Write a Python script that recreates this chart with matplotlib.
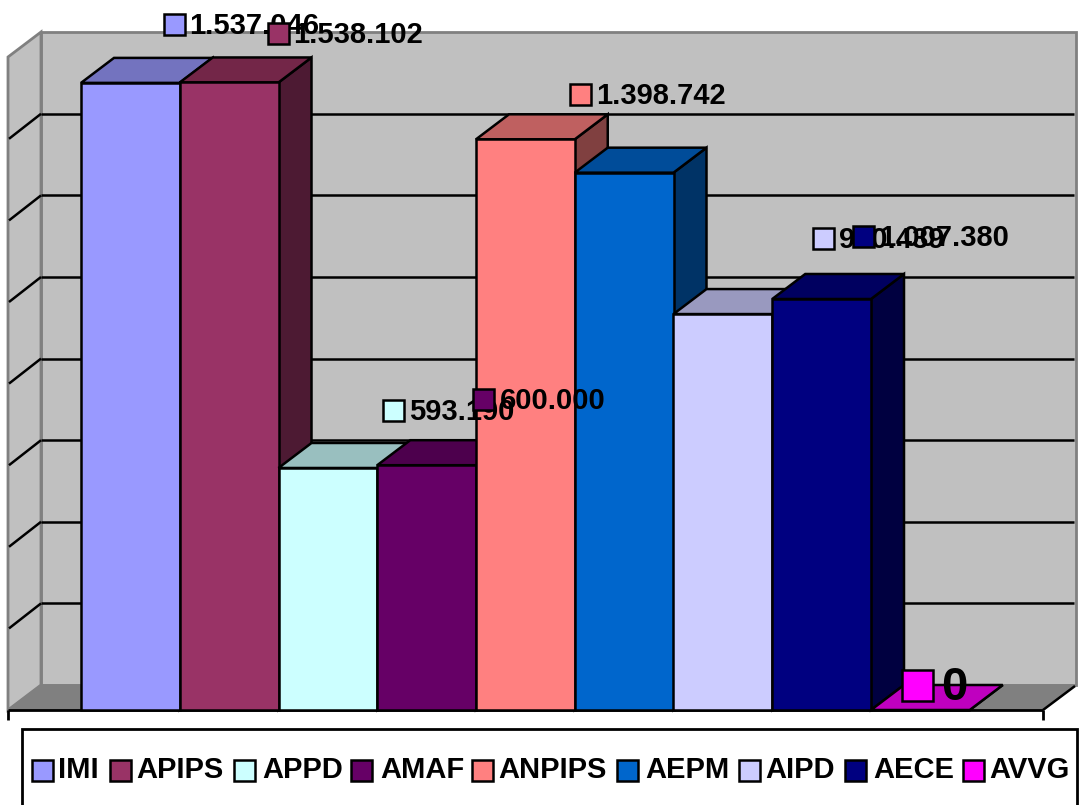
import matplotlib
matplotlib.use('Agg')
import matplotlib.pyplot as plt
from matplotlib.patches import Rectangle

categories = ['IMI', 'APIPS', 'APPD', 'AMAF', 'ANPIPS', 'AEPM', 'AIPD', 'AECE', 'AVVG']
values = [1537046, 1538102, 593190, 600000, 1398742, 1317000, 970439, 1007380, 0]
colors = ['#9999ff', '#993366', '#ccffff', '#660066', '#ff8080', '#0066cc', '#ccccff', '#000080', '#ff00ff']
top_colors = ['#7373bf', '#732648', '#99bfbf', '#4d004d', '#bf6060', '#004c99', '#9999bf', '#000060', '#bf00bf']
side_colors = ['#4d4d80', '#4d1a33', '#668080', '#330033', '#804040', '#003366', '#666680', '#000040', '#800080']
label_texts = ['1.537.046', '1.538.102', '593.190', '600.000', '1.398.742', None, '970.439', '1.007.380', '0']
grid_values = [200000, 400000, 600000, 800000, 1000000, 1200000, 1400000, 1600000]

# layout in pixels of the 1080x805 picture
label_x = [174, 278, 394, 484, 581, None, 824, 864, 918]
label_y = [25, 34, 411, 400, 95, None, 239, 237, 685]
legend_box_x = [42, 120, 245, 362, 483, 628, 750, 856, 974]
legend_text_x = [58, 136, 262, 380, 498, 645, 765, 873, 989]

BAR_L = 81
BAR_W = 98.75
BASE = 710
UNITS_PER_PX = 2451
DX = 33
DY = 25
LW = 1.8
FONT = 'Liberation Sans'

fig = plt.figure(figsize=(10.8, 8.05), dpi=100)
ax = fig.add_axes([0, 0, 1, 1])
ax.set_xlim(-BAR_L / BAR_W, (1080 - BAR_L) / BAR_W)
ax.set_ylim((BASE - 805) * UNITS_PER_PX, BASE * UNITS_PER_PX)
ax.axis('off')


def px(x, y):
    return (x - BAR_L) / BAR_W, (BASE - y) * UNITS_PER_PX


def poly(points, fc, ec='black', lw=LW, z=1):
    xy = [px(*p) for p in points]
    ax.fill([p[0] for p in xy], [p[1] for p in xy], facecolor=fc, edgecolor=ec,
            linewidth=lw, zorder=z, joinstyle='miter')


def line(x0, y0, x1, y1, color='black', lw=LW, z=2):
    a, b = px(x0, y0), px(x1, y1)
    ax.plot([a[0], b[0]], [a[1], b[1]], color=color, lw=lw, zorder=z, solid_capstyle='butt')


# walls and floor
poly([(41, 32), (1076, 32), (1076, 685), (41, 685)], '#c0c0c0', '#808080', 2)
poly([(8, 57), (41, 32), (41, 685), (8, 710)], '#c0c0c0', '#808080', 2)
poly([(8, 710), (41, 685), (1076, 685), (1043, 710)], '#808080', '#808080', 1.0)

# gridlines
for g in grid_values:
    yp = BASE - DY - g / UNITS_PER_PX
    if g < 1600000:
        line(41, yp, 1074, yp)
        line(9, yp + DY, 41, yp)

line(8, 710, 1043, 710, lw=2)
line(1043, 710, 1075, 686)
line(8, 710, 8, 720, lw=2)
line(1043, 710, 1043, 720, lw=2)

# bars
z = 3
for i, v in enumerate(values):
    xl = i
    xr = i + 1
    dx = DX / BAR_W
    dy = DY * UNITS_PER_PX
    ax.fill([xr, xr + dx, xr + dx, xr], [0, dy, v + dy, v], facecolor=side_colors[i],
            edgecolor='black', linewidth=LW, zorder=z)
    ax.fill([xl, xl + dx, xr + dx, xr], [v, v + dy, v + dy, v], facecolor=top_colors[i],
            edgecolor='black', linewidth=LW, zorder=z + 1)
    ax.bar(xl, v, width=1, align='edge', color=colors[i], edgecolor='black', linewidth=LW, zorder=z + 2)
    z += 3

# data labels
for i, txt in enumerate(label_texts):
    if txt is None:
        continue
    big = txt == '0'
    half = 15.5 if big else 10.5
    x0, y0 = px(label_x[i] - half, label_y[i] + half)
    ax.add_patch(Rectangle((x0, y0), 2 * half / BAR_W, 2 * half * UNITS_PER_PX, facecolor=colors[i],
                           edgecolor='black', linewidth=LW, zorder=z))
    tx, ty = px(label_x[i] + half + 5 + (3 if big else 0), label_y[i] + (3 if big else 1))
    ax.text(tx, ty, txt, fontsize=34 if big else 21, fontweight='bold', family=FONT,
            ha='left', va='center', color='black', zorder=z + 1)
    z += 2

# legend
poly([(22, 729), (1077, 729), (1077, 815), (22, 815)], 'white', 'black', 2, z=z)
z += 1
for i, name in enumerate(categories):
    x0, y0 = px(legend_box_x[i] - 10.5, 780.5)
    ax.add_patch(Rectangle((x0, y0), 21 / BAR_W, 21 * UNITS_PER_PX, facecolor=colors[i],
                           edgecolor='black', linewidth=LW, zorder=z))
    tx, ty = px(legend_text_x[i], 770)
    ax.text(tx, ty, name, fontsize=21, fontweight='bold', family=FONT, ha='left', va='center',
            color='black', zorder=z)

fig.savefig('out.png', dpi=100)
